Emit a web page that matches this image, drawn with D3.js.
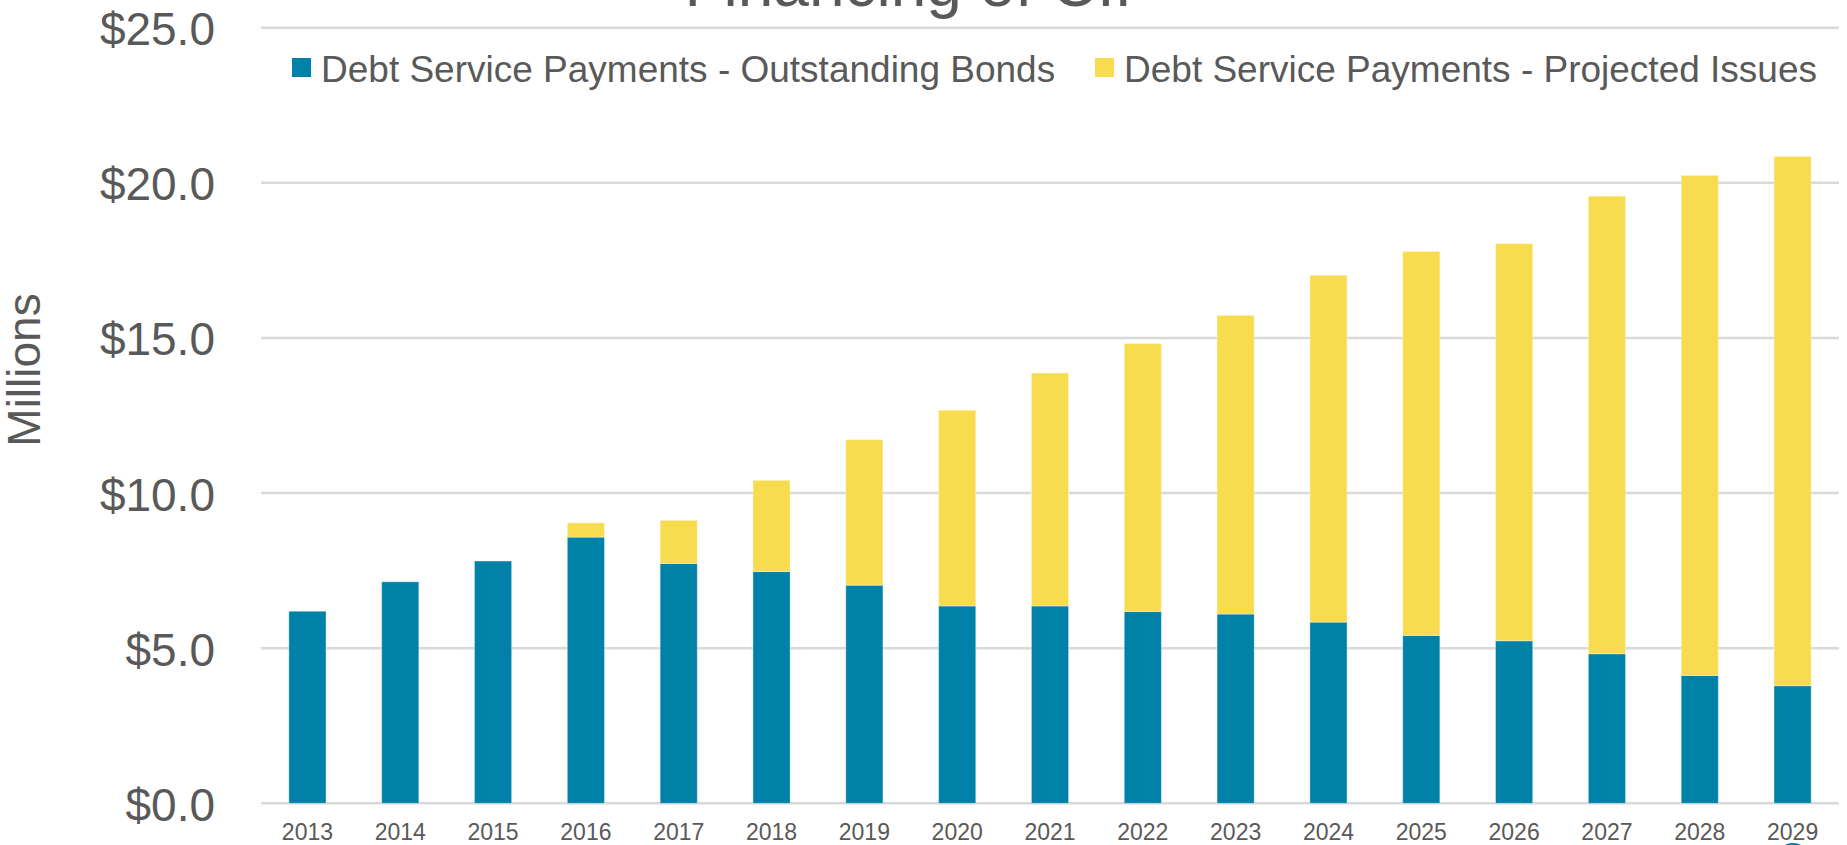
<!DOCTYPE html>
<html>
<head>
<meta charset="utf-8">
<script src="https://cdn.jsdelivr.net/npm/d3@7"></script>
<style>
  html, body { margin: 0; padding: 0; background: #fff; }
  svg { display: block; font-family: "Liberation Sans", Arial, sans-serif; }
</style>
</head>
<body>
<svg id="chart" width="1847" height="845"></svg>
<script>
// Debt service by fiscal year, in millions of dollars
const years = ["2013","2014","2015","2016","2017","2018","2019","2020","2021",
               "2022","2023","2024","2025","2026","2027","2028","2029"];
const outstandingBonds = [6.19, 7.14, 7.81, 8.58, 7.73, 7.47, 7.03, 6.36, 6.36,
                          6.18, 6.10, 5.84, 5.41, 5.24, 4.82, 4.12, 3.79];
const projectedIssues  = [0, 0, 0, 0.46, 1.39, 2.94, 4.69, 6.31, 7.51,
                          8.64, 9.63, 11.18, 12.38, 12.80, 14.75, 16.12, 17.06];
const yTicks = [0, 5, 10, 15, 20, 25];
const seriesNames = ["Debt Service Payments - Outstanding Bonds",
                     "Debt Service Payments - Projected Issues"];
const seriesColors = ["#0082A8", "#F8DC4F"];

const svg = d3.select("#chart");
const textColor = "#595959";

const x = d3.scaleBand().domain(years).range([261, 1839]).paddingInner(0.6).paddingOuter(0.3);
const y = d3.scaleLinear().domain([0, 25]).range([803.3, 27.7]);

// gridlines
svg.append("g")
  .selectAll("line")
  .data(yTicks)
  .join("line")
  .attr("x1", 261).attr("x2", 1839)
  .attr("y1", d => y(d)).attr("y2", d => y(d))
  .attr("stroke", "#d9d9d9").attr("stroke-width", 2.5);

// y axis labels
const yAxis = d3.axisLeft(y).tickValues(yTicks).tickSize(0).tickPadding(0)
  .tickFormat(d => "$" + d3.format(".1f")(d));
const gy = svg.append("g").attr("transform", "translate(215,0)").call(yAxis);
gy.select(".domain").remove();
gy.selectAll("text")
  .attr("font-family", "'Liberation Sans', Arial, sans-serif")
  .attr("font-size", 46).attr("fill", textColor)
  .attr("dy", "0.37em");

// x axis labels
const xAxis = d3.axisBottom(x).tickSize(0).tickPadding(0);
const gx = svg.append("g").attr("transform", "translate(0,840)").call(xAxis);
gx.select(".domain").remove();
gx.selectAll("text")
  .attr("font-family", "'Liberation Sans', Arial, sans-serif")
  .attr("font-size", 23).attr("fill", textColor)
  .attr("y", 0).attr("dy", 0);

// stacked bars
const rows = years.map((yr, i) => ({ year: yr, a: outstandingBonds[i], b: projectedIssues[i] }));
const stacked = d3.stack().keys(["a", "b"])(rows);

svg.append("g")
  .selectAll("g")
  .data(stacked)
  .join("g")
  .attr("fill", (d, i) => seriesColors[i])
  .selectAll("rect")
  .data(d => d.filter(p => p[1] - p[0] > 0))
  .join("rect")
  .attr("x", d => x(d.data.year))
  .attr("width", x.bandwidth())
  .attr("y", d => y(d[1]))
  .attr("height", d => y(d[0]) - y(d[1]))
  .attr("stroke", "#ffffff").attr("stroke-opacity", 0.35).attr("stroke-width", 1);

// legend
const legendX = [292, 1095];
const legend = svg.append("g");
seriesNames.forEach((name, i) => {
  legend.append("rect")
    .attr("x", legendX[i]).attr("y", 58)
    .attr("width", 19).attr("height", 19)
    .attr("fill", seriesColors[i]);
  legend.append("text")
    .attr("x", legendX[i] + 29).attr("y", 82)
    .attr("font-size", 37).attr("fill", textColor)
    .text(name);
});

// axis title
svg.append("text")
  .attr("transform", "translate(40,370) rotate(-90)")
  .attr("text-anchor", "middle")
  .attr("font-size", 46).attr("fill", textColor)
  .text("Millions");

// chart title (top edge of the slide cuts it)
svg.append("text")
  .attr("x", 921).attr("y", 6)
  .attr("text-anchor", "middle")
  .attr("font-size", 64).attr("fill", textColor)
  .text("Financing of CIP");

// badge at the bottom edge
svg.append("circle")
  .attr("cx", 1793).attr("cy", 860).attr("r", 17)
  .attr("fill", "#0082A8");
</script>
</body>
</html>
